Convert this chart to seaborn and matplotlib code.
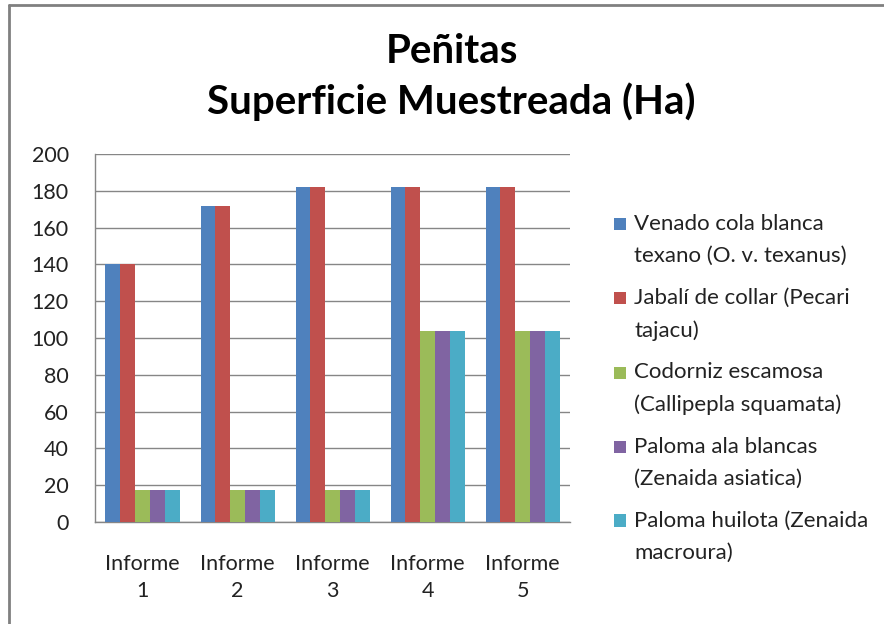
import matplotlib
matplotlib.use("Agg")
import matplotlib.pyplot as plt
import matplotlib.patches as mpatches
from matplotlib.legend_handler import HandlerPatch
import pandas as pd
import seaborn as sns

# data
informes = ["Informe\n1", "Informe\n2", "Informe\n3", "Informe\n4", "Informe\n5"]
especies = [
    "Venado cola blanca\ntexano (O. v. texanus)",
    "Jabalí de collar (Pecari\ntajacu)",
    "Codorniz escamosa\n(Callipepla squamata)",
    "Paloma ala blancas\n(Zenaida asiatica)",
    "Paloma huilota (Zenaida\nmacroura)",
]
venado = [140, 172, 182, 182, 182]
jabali = [140, 172, 182, 182, 182]
codorniz = [17.5, 17.5, 17.5, 104, 104]
paloma_ala = [17.5, 17.5, 17.5, 104, 104]
paloma_huilota = [17.5, 17.5, 17.5, 104, 104]
colores = ["#4F81BD", "#C0504D", "#9BBB59", "#8064A2", "#4BACC6"]

series = [venado, jabali, codorniz, paloma_ala, paloma_huilota]
rows = []
for esp, vals in zip(especies, series):
    for inf, v in zip(informes, vals):
        rows.append({"informe": inf, "especie": esp, "ha": v})
df = pd.DataFrame(rows)

sns.set_style("white")
plt.rcParams["font.family"] = ["Lato", "DejaVu Sans"]

fig = plt.figure(figsize=(8.84, 6.24), dpi=100)
ax = fig.add_axes([0.1075, 0.1635, 0.5375, 0.5897])

sns.barplot(data=df, x="informe", y="ha", hue="especie", hue_order=especies,
            order=informes, palette=colores, saturation=1, width=0.78,
            errorbar=None, linewidth=0, ax=ax, zorder=3)

ax.set_ylim(0, 200)
ax.set_yticks(range(0, 201, 20))
ax.set_xlim(-0.5, 4.5)
ax.yaxis.grid(True, color="#868686", linewidth=1, zorder=0)
ax.set_axisbelow(True)
for s in ["top", "right"]:
    ax.spines[s].set_visible(False)
for s in ["left", "bottom"]:
    ax.spines[s].set_color("#868686")
    ax.spines[s].set_linewidth(1)
ax.set_xlabel("")
ax.set_ylabel("")
ax.tick_params(axis="both", labelsize=15.5, colors="#222222", length=0)
ax.tick_params(axis="y", pad=19)
ax.tick_params(axis="x", pad=23)
for lbl in ax.get_xticklabels():
    lbl.set_linespacing(1.45)


# legend square sits next to the first text line, like in the original
def top_square(legend, orig_handle, xdescent, ydescent, width, height, fontsize):
    side = 0.55 * fontsize
    return mpatches.Rectangle((-xdescent, -ydescent + 0.75 * fontsize), side, side)


ax.legend_.remove()
handles, labels = ax.get_legend_handles_labels()
leg = fig.legend(handles, labels, loc="upper left", bbox_to_anchor=(0.672, 0.689),
                 frameon=False, fontsize=16, handlelength=0.55, handleheight=0.55,
                 handletextpad=0.35, labelspacing=0.97, labelcolor="#222222",
                 handler_map={mpatches.Rectangle: HandlerPatch(patch_func=top_square)})
for t in leg.get_texts():
    t.set_linespacing(1.75)

fig.text(0.511, 0.918, "Peñitas", ha="center", va="center",
         fontsize=29, fontweight="bold", color="black")
fig.text(0.511, 0.837, "Superficie Muestreada (Ha)", ha="center", va="center",
         fontsize=29, fontweight="bold", color="black")

# outer chart frame
fig.add_artist(plt.Line2D([0.0102, 0.0102], [0, 0.992], transform=fig.transFigure,
                          color="#808080", linewidth=2))
fig.add_artist(plt.Line2D([0.0102, 1.0], [0.992, 0.992], transform=fig.transFigure,
                          color="#808080", linewidth=2))

fig.savefig("out.png", dpi=100)
